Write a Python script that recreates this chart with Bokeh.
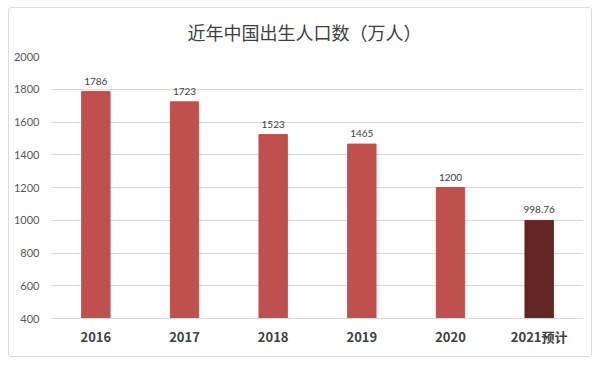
from bokeh.plotting import figure
from bokeh.models import ColumnDataSource, LabelSet, Range1d
from bokeh.core.properties import value
from bokeh.embed import file_html
from bokeh.resources import INLINE

categories = ["2016", "2017", "2018", "2019", "2020", "2021预计"]
births = [1786, 1723, 1523, 1465, 1200, 998.76]
labels = ["1786", "1723", "1523", "1465", "1200", "998.76"]
colors = ["#c0504d", "#c0504d", "#c0504d", "#c0504d", "#c0504d", "#632523"]
y_ticks = [400, 600, 800, 1000, 1200, 1400, 1600, 1800, 2000]
title_text = "近年中国出生人口数（万人）"

src = ColumnDataSource(dict(cat=categories, val=births, lab=labels, col=colors,
                            base=[400] * len(births)))

p = figure(x_range=categories, y_range=Range1d(400, 2000), width=584, height=350,
           output_backend="svg", toolbar_location=None,
           min_border_left=42, min_border_right=10, min_border_top=48, min_border_bottom=40)
p.margin = (7, 0, 0, 8)
p.styles = {"border": "1px solid #dcdcdc", "border-radius": "3px"}

p.title.text = title_text
p.title.align = "left"
p.title.offset = 136
p.title.vertical_align = "top"
p.title.text_font = "Noto Sans CJK SC"
p.title.text_font_size = "18px"
p.title.text_font_style = "normal"
p.title.text_color = "#404040"
p.title.standoff = 20

p.vbar(x="cat", top="val", bottom="base", width=0.32, color="col", source=src)

p.add_layout(LabelSet(x="cat", y="val", text="lab", source=src, y_offset=7,
                      text_align="center", text_baseline="bottom",
                      text_font_size=value("10px"), text_color=value("#404040"),
                      text_font=value("Lato")))

p.outline_line_color = None
p.xgrid.grid_line_color = None
p.ygrid.grid_line_color = "#d9d9d9"
p.yaxis.ticker = y_ticks
p.yaxis.axis_line_color = None
p.yaxis.major_tick_line_color = None
p.yaxis.minor_tick_line_color = None
p.yaxis.major_tick_out = 0
p.yaxis.major_tick_in = 0
p.yaxis.major_label_text_font = "Lato"
p.yaxis.major_label_text_font_size = "11px"
p.yaxis.major_label_text_color = "#595959"
p.yaxis.major_label_standoff = 12
p.xaxis.axis_line_color = "#d9d9d9"
p.xaxis.major_tick_line_color = None
p.xaxis.minor_tick_line_color = None
p.xaxis.major_tick_out = 0
p.xaxis.major_tick_in = 0
p.xaxis.major_label_text_font = "Noto Sans CJK SC"
p.xaxis.major_label_text_font_size = "13px"
p.xaxis.major_label_text_font_style = "bold"
p.xaxis.major_label_text_color = "#404040"
p.xaxis.major_label_standoff = 8

open("out.html", "w").write(file_html(p, INLINE))
